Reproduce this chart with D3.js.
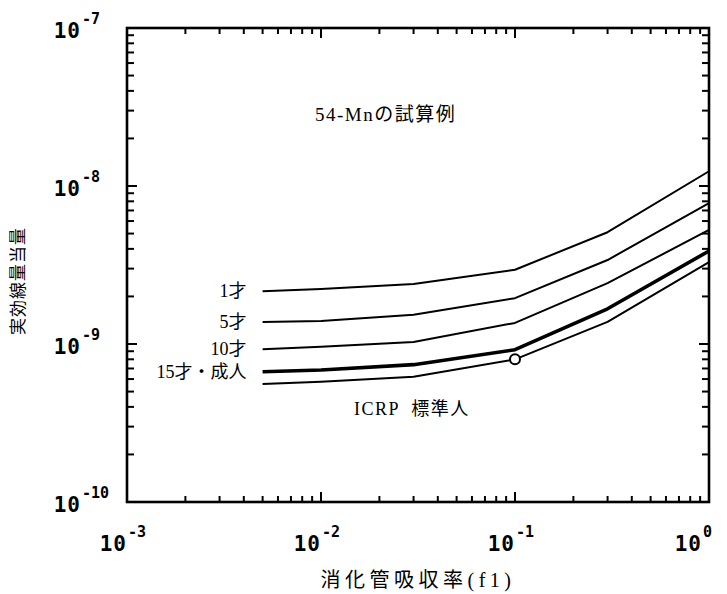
<!DOCTYPE html>
<html><head><meta charset="utf-8">
<script src="https://cdn.jsdelivr.net/npm/d3@7/dist/d3.min.js"></script>
<style>
body{margin:0;background:#fff;}
svg{display:block;}
.tick-lab{font-family:"DejaVu Sans Mono",monospace;font-weight:bold;fill:#000;}
.ser{font-family:"Liberation Serif","Noto Sans CJK JP",serif;fill:#000;}
</style>
</head><body>
<svg id="c" width="727" height="594"></svg>
<script>
// Data
const f1Values = [0.005, 0.01, 0.03, 0.1, 0.3, 1];
const age1 = [2.16e-9, 2.23e-9, 2.40e-9, 2.95e-9, 5.10e-9, 1.24e-8];
const age5 = [1.38e-9, 1.40e-9, 1.53e-9, 1.95e-9, 3.40e-9, 7.8e-9];
const age10 = [9.25e-10, 9.6e-10, 1.03e-9, 1.36e-9, 2.43e-9, 5.27e-9];
const age15adult = [6.68e-10, 6.84e-10, 7.4e-10, 9.2e-10, 1.67e-9, 3.88e-9];
const icrpRef = [5.58e-10, 5.77e-10, 6.2e-10, 8.0e-10, 1.38e-9, 3.3e-9];
const seriesNames = ["1才", "5才", "10才", "15才・成人", "ICRP  標準人"];
const icrpPoint = {x: 0.1, y: 8.0e-10};
const xTickExps = [-3, -2, -1, 0];
const yTickExps = [-10, -9, -8, -7];

const svg = d3.select("#c");
const m = {l:127, r:18, t:28, b:92};
const W = 727, H = 594;
const x = d3.scaleLog().domain([1e-3, 1]).range([m.l, W - m.r]);
const y = d3.scaleLog().domain([1e-10, 1e-7]).range([H - m.b, m.t]);

function logTicks(lo, hi){
  const out=[];
  for(let e=lo;e<hi;e++){ for(let k=1;k<10;k++) out.push({v:k*Math.pow(10,e), major:k===1}); }
  out.push({v:Math.pow(10,hi), major:true});
  return out;
}
const xt = logTicks(-3,0), yt = logTicks(-10,-7);
const g = svg.append("g");
g.selectAll(".xb").data(xt).enter().append("line")
  .attr("x1",d=>x(d.v)).attr("x2",d=>x(d.v))
  .attr("y1",y(1e-10)).attr("y2",d=>y(1e-10)-(d.major?10:6))
  .attr("stroke","#000").attr("stroke-width",2);
g.selectAll(".xt").data(xt).enter().append("line")
  .attr("x1",d=>x(d.v)).attr("x2",d=>x(d.v))
  .attr("y1",y(1e-7)).attr("y2",d=>y(1e-7)+(d.major?10:6))
  .attr("stroke","#000").attr("stroke-width",2);
g.selectAll(".yl").data(yt).enter().append("line")
  .attr("y1",d=>y(d.v)).attr("y2",d=>y(d.v))
  .attr("x1",x(1e-3)).attr("x2",d=>x(1e-3)+(d.major?10:7))
  .attr("stroke","#000").attr("stroke-width",2);
g.selectAll(".yr").data(yt).enter().append("line")
  .attr("y1",d=>y(d.v)).attr("y2",d=>y(d.v))
  .attr("x1",x(1)).attr("x2",d=>x(1)-(d.major?10:7))
  .attr("stroke","#000").attr("stroke-width",2);
g.append("rect").attr("x",x(1e-3)).attr("y",y(1e-7))
  .attr("width",x(1)-x(1e-3)).attr("height",y(1e-10)-y(1e-7))
  .attr("fill","none").attr("stroke","#000").attr("stroke-width",2.6);

// tick labels
xTickExps.forEach(e=>{
  const px = x(Math.pow(10,e)) - (e===0 ? 7 : 0);
  svg.append("text").attr("class","tick-lab").attr("x",px).attr("y",551)
    .attr("text-anchor","end").attr("font-size",21).attr("letter-spacing",1).text("10");
  svg.append("text").attr("class","tick-lab").attr("x",px+1).attr("y",537)
    .attr("font-size",15).text(e<0 ? "-"+(-e) : String(e));
});
yTickExps.forEach(e=>{
  const py = y(Math.pow(10,e));
  svg.append("text").attr("class","tick-lab").attr("x",81).attr("y",py+10)
    .attr("text-anchor","end").attr("font-size",21).attr("letter-spacing",1).text("10");
  svg.append("text").attr("class","tick-lab").attr("x",82).attr("y",py-4)
    .attr("font-size",15).text("-"+(-e));
});

// lines
const allSeries = [age1, age5, age10, age15adult, icrpRef];
const widths = [2, 2, 2, 3.6, 2];
const line = d3.line().x(d=>x(d[0])).y(d=>y(d[1]));
allSeries.forEach((s,i)=>{
  svg.append("path").datum(f1Values.map((v,j)=>[v,s[j]]))
    .attr("d",line).attr("fill","none").attr("stroke","#000")
    .attr("stroke-width",widths[i]).attr("stroke-linejoin","round");
});
svg.append("circle").attr("cx",x(icrpPoint.x)).attr("cy",y(icrpPoint.y)).attr("r",5)
  .attr("fill","#fff").attr("stroke","#000").attr("stroke-width",2);

// series labels
for(let i=0;i<4;i++){
  svg.append("text").attr("class","ser").attr("x",x(f1Values[0])-16)
    .attr("y",y(allSeries[i][0])+6).attr("text-anchor","end").attr("font-size",18)
    .text(seriesNames[i]);
}
svg.append("text").attr("class","ser").attr("x",354).attr("y",415)
  .attr("font-size",18).attr("letter-spacing",1.5).attr("xml:space","preserve").text(seriesNames[4]);
svg.append("text").attr("class","ser").attr("x",315).attr("y",121)
  .attr("font-size",19).attr("letter-spacing",1.5).text("54-Mnの試算例");

// axis titles
svg.append("text").attr("class","ser").attr("x",418).attr("y",587)
  .attr("text-anchor","middle").attr("font-size",20).attr("letter-spacing",4.5).text("消化管吸収率(f1)");
svg.append("text").attr("class","ser").attr("fill","#000").attr("transform","translate(24,281) rotate(-90)")
  .attr("text-anchor","middle").attr("font-size",17).attr("letter-spacing",1).text("実効線量当量");
</script>
</body></html>
